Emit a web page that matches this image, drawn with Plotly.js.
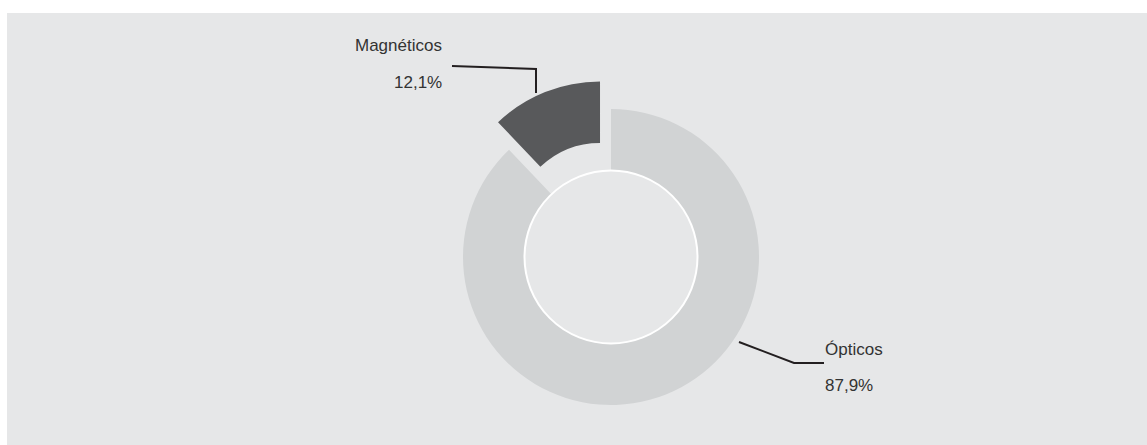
<!DOCTYPE html>
<html>
<head>
<meta charset="utf-8">
<script src="https://cdn.plot.ly/plotly-3.0.1.min.js"></script>
<style>
  html, body { margin: 0; padding: 0; background: #ffffff; width: 1147px; height: 445px; overflow: hidden; }
  #chart { position: absolute; left: 7px; top: 13px; width: 1140px; height: 432px; }
</style>
</head>
<body>
<div id="chart"></div>
<script>
// Data
const categories = ["Ópticos", "Magnéticos"];
const values = [87.9, 12.1];
const valueLabels = ["87,9%", "12,1%"];

// Styles
const sliceColors = ["#d1d3d4", "#58595b"];
const pulls = [0, 0.2];
const W = 1140, H = 432;
const px = x => x / W;
const py = y => 1 - y / H;

const trace = {
  type: "pie",
  labels: categories,
  values: values,
  sort: false,
  direction: "clockwise",
  rotation: 0,
  hole: 0.585,
  pull: pulls,
  marker: { colors: sliceColors, line: { width: 0 } },
  textinfo: "none",
  hoverinfo: "label+percent",
  showlegend: false,
  domain: { x: [px(604 - 177.6), px(604 + 177.6)], y: [py(244 + 177.6), py(244 - 177.6)] }
};

const textFont = { family: "Liberation Sans, Arial, sans-serif", size: 17, color: "#333333" };
const ann = (x, y, text, anchor) => ({
  xref: "paper", yref: "paper", x: px(x), y: py(y), text: text,
  showarrow: false, xanchor: anchor, yanchor: "middle", font: textFont
});

const line = (pts) => ({
  type: "path", xref: "paper", yref: "paper",
  path: "M " + pts.map(p => px(p[0]) + "," + py(p[1])).join(" L "),
  line: { color: "#231f20", width: 2 }
});

const layout = {
  width: W, height: H,
  margin: { l: 0, r: 0, t: 0, b: 0 },
  paper_bgcolor: "#e6e7e8",
  plot_bgcolor: "#e6e7e8",
  showlegend: false,
  annotations: [
    ann(437, 33, categories[1], "right"),
    ann(437, 70, valueLabels[1], "right"),
    ann(816, 336, categories[0], "left"),
    ann(816, 372, valueLabels[0], "left")
  ],
  shapes: [
    {
      type: "circle", xref: "paper", yref: "paper",
      x0: px(604 - 86.5), x1: px(604 + 86.5), y0: py(244 + 86.5), y1: py(244 - 86.5),
      line: { color: "#ffffff", width: 2 }, fillcolor: "rgba(0,0,0,0)"
    },
    line([[445, 53], [529, 56], [529, 80]]),
    line([[732, 329], [787, 350], [817, 350]])
  ]
};

Plotly.newPlot("chart", [trace], layout, { displayModeBar: false, staticPlot: true });
</script>
</body>
</html>
